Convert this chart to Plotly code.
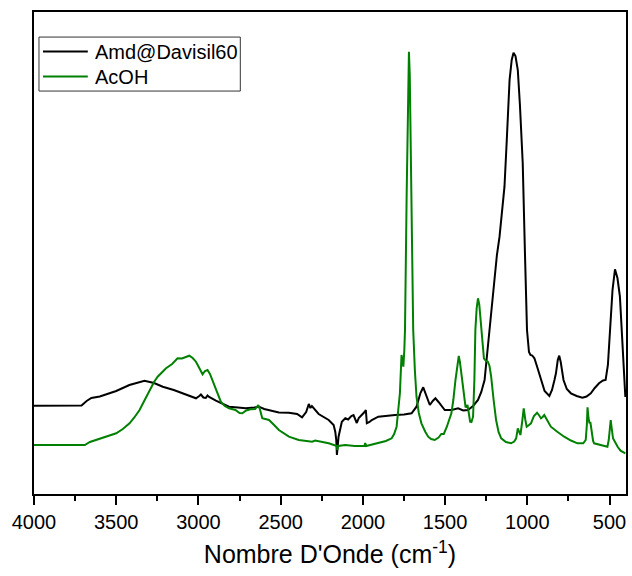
import plotly.graph_objects as go

# Wavenumbers (cm-1) and intensity (a.u.)
amd_wn = [4000, 3850, 3711, 3680, 3651, 3600, 3500, 3420, 3328, 3270, 3217, 3150, 3096, 3040, 3015,
          2995, 2985, 2970, 2955, 2945, 2935, 2894, 2850, 2814, 2760, 2713, 2660, 2632, 2600, 2511,
          2450, 2400, 2370, 2345, 2329, 2319, 2310, 2269, 2208, 2178, 2168, 2162, 2158, 2152, 2148,
          2128, 2107, 2090, 2070, 2057, 2045, 2037, 2025, 2000, 1990, 1982, 1976, 1960, 1946, 1906,
          1850, 1804, 1750, 1704, 1674, 1650, 1633, 1615, 1593, 1575, 1559, 1540, 1502, 1460, 1421,
          1390, 1361, 1330, 1300, 1280, 1260, 1245, 1230, 1215, 1199, 1185, 1169, 1155, 1139, 1125,
          1108, 1095, 1084, 1072, 1058, 1045, 1028, 1015, 1002, 990, 981, 970, 957, 940, 917,
          895, 866, 850, 835, 826, 815, 806, 797, 780, 760, 735, 700, 665, 640, 614,
          590, 564, 540, 524, 510, 497, 482, 467, 452, 437, 425, 412, 404]
amd_int = [88.3, 88.5, 88.5, 93, 96, 97.5, 103, 109, 113.3, 111, 107.3, 104, 100.7, 96.5, 95.7,
           98, 99.5, 96.5, 96, 98.5, 97, 93.3, 90, 87.3, 86.5, 85.7, 86.5, 87.3, 85, 81.5,
           81.3, 80, 76.7, 82, 90, 86, 88, 80, 74, 69, 62.3, 54, 39, 49, 57.3,
           72.3, 75.7, 74.5, 78, 79, 74, 71, 76, 80, 82, 84, 70.7, 72, 74, 77.3,
           78.5, 79, 79.5, 80.7, 87.3, 101, 106.7, 99, 89, 93, 95.7, 92, 84, 84, 85.7,
           83.5, 84, 88, 94, 102, 114, 139, 164, 194, 220.7, 239, 257.3, 279, 307.3, 354,
           414, 434, 441.3, 438, 424, 389, 330.7, 244, 164, 142, 139, 138.5, 135.7, 127, 114,
           103, 98, 104, 114, 120.7, 134, 138.3, 132, 114, 105, 100.7, 98, 96.3, 97.5, 100.7,
           106, 110.7, 113.5, 114, 129, 164, 204, 224.7, 216, 197.3, 164, 131, 97]

acoh_wn = [4000, 3850, 3691, 3660, 3621, 3560, 3500, 3460, 3419, 3390, 3358, 3330, 3298, 3270, 3248,
           3220, 3197, 3160, 3127, 3100, 3075, 3056, 3035, 3015, 2995, 2975, 2960, 2945, 2930, 2915,
           2890, 2864, 2840, 2814, 2775, 2750, 2733, 2710, 2683, 2655, 2636, 2625, 2612, 2590, 2571,
           2540, 2511, 2450, 2390, 2309, 2290, 2208, 2165, 2158, 2156, 2150, 2107, 2050, 1990, 1986,
           1980, 1906, 1860, 1825, 1810, 1795, 1775, 1765, 1758, 1754, 1748, 1744, 1734, 1726, 1720,
           1715, 1710, 1702, 1694, 1684, 1674, 1660, 1644, 1620, 1603, 1585, 1563, 1540, 1523, 1508,
           1490, 1462, 1450, 1437, 1425, 1417, 1410, 1397, 1385, 1376, 1370, 1364, 1356, 1348, 1340,
           1330, 1322, 1316, 1308, 1300, 1292, 1280, 1270, 1264, 1252, 1240, 1230, 1220, 1205, 1190,
           1175, 1159, 1130, 1099, 1080, 1068, 1058, 1050, 1042, 1030, 1022, 1012, 1004, 990, 978,
           960, 941, 930, 917, 907, 897, 880, 857, 820, 776, 735, 695, 660, 645, 638,
           634, 628, 622, 617, 610, 600, 594, 560, 530, 513, 505, 497, 493, 487, 479,
           470, 463, 450, 433, 415, 404]
acoh_int = [49, 49, 49, 52, 54, 57, 60.7, 65, 70.7, 76.5, 84, 93, 104, 112, 117.3,
            122.5, 125.7, 130, 135.7, 135.5, 137, 138.3, 136, 132.3, 126, 119.7, 123, 124, 120, 114,
            102, 92.3, 88, 85.7, 84, 81, 80.7, 83.5, 84.7, 85, 89, 84, 75.7, 75, 74,
            69, 64, 57.3, 54, 52.3, 53.5, 50.7, 49, 48, 44, 48, 49, 48, 48, 51,
            48, 50.7, 53, 55.7, 60, 67.3, 100.7, 139, 132, 127.3, 144, 164, 297.3, 404, 442.3,
            419, 364, 264, 164, 124, 97.3, 81, 70.7, 62, 57.3, 55, 54, 56.5, 60, 60,
            67, 80.7, 94, 114, 131, 138, 132, 114, 99, 87.3, 87, 89, 81, 72.3, 72,
            77.3, 114, 164, 186, 195.7, 189, 164, 144, 135.7, 133, 132.3, 128, 117.3, 94, 74,
            62, 55.7, 52, 50.7, 52.5, 55.7, 65.7, 62, 59, 74, 85.7, 74, 67.3, 69, 70.7,
            78, 81.3, 79, 75.7, 77, 79, 74, 67.3, 62.5, 57.3, 53.5, 50.7, 50.7, 54, 69,
            86.7, 76, 70.7, 72, 62, 53, 50.7, 49, 48, 47.3, 54, 69, 74, 66, 55.7,
            53, 50.7, 47, 43.3, 41.5, 40.7]

series_names = ["Amd@Davisil60", "AcOH"]
series_colors = ["black", "#008000"]
x_ticks = [4000, 3500, 3000, 2500, 2000, 1500, 1000, 500]
x_range = [4000, 400]
y_range = [0, 482]

FONT = "Arial, 'Liberation Sans', Helvetica, sans-serif"

fig = go.Figure()
for name, color, wn, inten in zip(series_names, series_colors,
                                   [amd_wn, acoh_wn], [amd_int, acoh_int]):
    fig.add_trace(go.Scatter(x=wn, y=inten, mode="lines", name=name,
                             line=dict(color=color, width=2), showlegend=False))

# Custom legend box (paper coordinates)
leg_x0, leg_x1 = 0.0084, 0.3485
leg_y0, leg_y1 = 0.836, 0.948
row_y = [0.918, 0.866]
line_x0, line_x1, text_x = 0.0152, 0.0909, 0.0993

shapes = [dict(type="rect", xref="paper", yref="paper", x0=leg_x0, x1=leg_x1, y0=leg_y0, y1=leg_y1,
               line=dict(color="#333333", width=1), fillcolor="white", layer="above")]
annotations = []
for name, color, ry in zip(series_names, series_colors, row_y):
    shapes.append(dict(type="line", xref="paper", yref="paper", x0=line_x0, x1=line_x1, y0=ry, y1=ry,
                       line=dict(color=color, width=2), layer="above"))
    annotations.append(dict(xref="paper", yref="paper", x=text_x, y=ry, xanchor="left", yanchor="middle",
                            text=name, showarrow=False, font=dict(size=20, family=FONT, color="black")))

fig.update_layout(
    width=632, height=576,
    margin=dict(l=34, r=4, t=12, b=82),
    paper_bgcolor="white", plot_bgcolor="white",
    font=dict(family=FONT, color="black", size=20),
    showlegend=False,
    shapes=shapes, annotations=annotations,
    xaxis=dict(range=x_range, tickvals=x_ticks, ticktext=[str(v) for v in x_ticks],
               ticks="outside", ticklen=9, tickwidth=1.5, tickcolor="black",
               minor=dict(dtick=250, ticks="outside", ticklen=5, tickwidth=1.5, tickcolor="black"),
               showline=True, linecolor="black", linewidth=1.5, mirror=True,
               showgrid=False, zeroline=False,
               tickfont=dict(size=20, family=FONT),
               title=dict(text="Nombre D'Onde (cm<sup>-1</sup>)", font=dict(size=25, family=FONT), standoff=14)),
    yaxis=dict(range=y_range, showticklabels=False, ticks="",
               showline=True, linecolor="black", linewidth=1.5, mirror=True,
               showgrid=False, zeroline=False),
)

fig.write_html("out.html", config={"displayModeBar": False},
               post_script="document.body.style.margin='0';document.body.style.overflow='hidden';")
